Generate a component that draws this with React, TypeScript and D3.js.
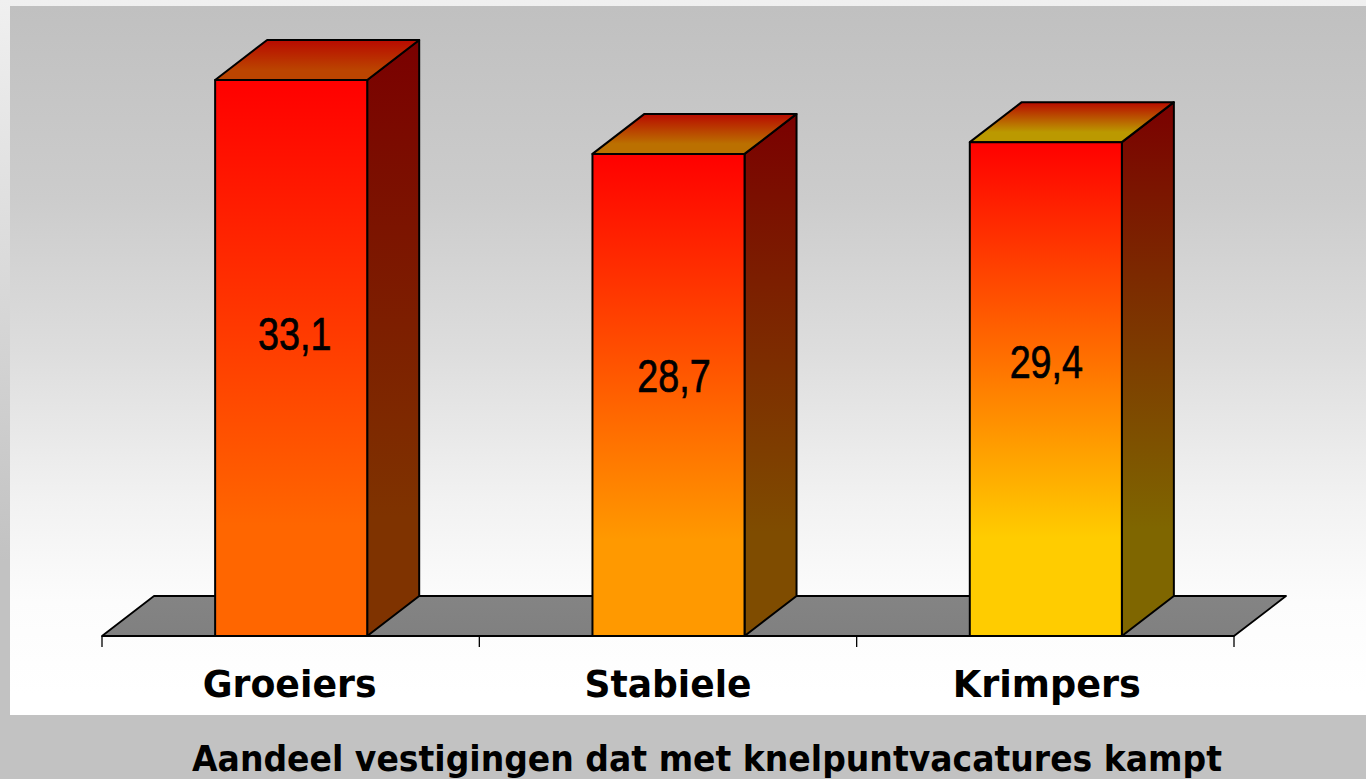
import React from "react";
import * as d3 from "d3";

const categories = ["Groeiers", "Stabiele", "Krimpers"];
const values = [33.1, 28.7, 29.4];
const valueLabels = ["33,1", "28,7", "29,4"];
const bottomColors = ["#ff6600", "#ff9900", "#ffcc00"];
const topFaceColors = ["#bb4400", "#bb7000", "#bb9900"];
const sideColors = ["#7f3300", "#7f4c00", "#7f6600"];
const title = "Aandeel vestigingen dat met knelpuntvacatures kampt";

const W = 1366;
const H = 779;
const baseY = 636;
const depthX = 52;
const depthY = 40;
const labelOffsets = [[3.5, -25], [5.5, -19], [0.5, -28]];
const categoryShift = [0.5, 1.5, 3];
const categoryWidths = [174, 167, 188];

const x = d3.scaleBand<string>().domain(categories).range([102.5, 1234.5]).paddingInner(0.597).paddingOuter(0.2985);
const y = d3.scaleLinear().domain([0, 33.1]).range([baseY, 80]);
const tickX = d3.scalePoint<number>().domain(d3.range(categories.length + 1)).range([102, 1234]);

const poly = (pts: [number, number][]) => d3.line()(pts) + "Z";

export default function App() {
  return (
    <svg width={W} height={H} style={{ position: "fixed", left: 0, top: 0, display: "block" }}>
      <defs>
        <linearGradient id="outer" x1="0" y1="0" x2="0" y2="1">
          <stop offset="0" stopColor="#f0f0f0" />
          <stop offset="0.72" stopColor="#c2c2c2" />
          <stop offset="1" stopColor="#c2c2c2" />
        </linearGradient>
        <linearGradient id="panel" x1="0" y1="0" x2="0" y2="1">
          <stop offset="0" stopColor="#c0c0c0" />
          <stop offset="0.27" stopColor="#cccccc" />
          <stop offset="0.485" stopColor="#dddddd" />
          <stop offset="0.70" stopColor="#f2f2f2" />
          <stop offset="0.84" stopColor="#fcfcfc" />
          <stop offset="0.97" stopColor="#ffffff" />
          <stop offset="1" stopColor="#ffffff" />
        </linearGradient>
        {categories.map((c, i) => (
          <React.Fragment key={c}>
            <linearGradient id={`front${i}`} x1="0" y1="0" x2="0" y2="1">
              <stop offset="0" stopColor="#ff0000" />
              <stop offset="0.8" stopColor={bottomColors[i]} />
              <stop offset="1" stopColor={bottomColors[i]} />
            </linearGradient>
            <linearGradient id={`side${i}`} x1="0" y1="0" x2="0" y2="1">
              <stop offset="0" stopColor="#7a0000" />
              <stop offset="0.8" stopColor={sideColors[i]} />
              <stop offset="1" stopColor={sideColors[i]} />
            </linearGradient>
            <linearGradient id={`top${i}`} x1="0" y1="0" x2="0" y2="1">
              <stop offset="0" stopColor="#b80a00" />
              <stop offset="0.75" stopColor={topFaceColors[i]} />
              <stop offset="1" stopColor={topFaceColors[i]} />
            </linearGradient>
          </React.Fragment>
        ))}
        <linearGradient id="floor" x1="0" y1="0" x2="0" y2="1">
          <stop offset="0" stopColor="#848484" />
          <stop offset="1" stopColor="#808080" />
        </linearGradient>
      </defs>

      <rect x={0} y={0} width={W} height={H} fill="url(#outer)" />
      <rect x={10} y={6} width={W - 10} height={709} fill="url(#panel)" />

      <path
        d={poly([[102, baseY], [102 + depthX, baseY - depthY], [1234 + depthX, baseY - depthY], [1234, baseY]])}
        fill="url(#floor)"
        stroke="#000"
        strokeWidth={1.8}
        strokeLinejoin="round"
      />
      {tickX.domain().map((t) => (
        <line key={t} x1={tickX(t)} x2={tickX(t)} y1={baseY} y2={baseY + 11} stroke="#000" strokeWidth={1.3} />
      ))}

      {categories.map((c, i) => {
        const x0 = x(c)!;
        const x1 = x0 + x.bandwidth();
        const yt = y(values[i]);
        return (
          <g key={c} stroke="#000" strokeWidth={2} strokeLinejoin="round">
            <path d={poly([[x1, baseY], [x1 + depthX, baseY - depthY], [x1 + depthX, yt - depthY], [x1, yt]])} fill={`url(#side${i})`} />
            <path d={poly([[x0, yt], [x0 + depthX, yt - depthY], [x1 + depthX, yt - depthY], [x1, yt]])} fill={`url(#top${i})`} />
            <rect x={x0} y={yt} width={x.bandwidth()} height={baseY - yt} fill={`url(#front${i})`} />
          </g>
        );
      })}

      {categories.map((c, i) => {
        const cx = x(c)! + x.bandwidth() / 2 + labelOffsets[i][0];
        const cy = (y(values[i]) + baseY) / 2 + labelOffsets[i][1];
        return (
          <text
            key={c}
            transform={`translate(${cx},${cy + 16.5}) scale(0.82,1)`}
            textAnchor="middle"
            fontFamily="'Liberation Sans'"
            fontSize={46}
            fill="#000"
            stroke="#000"
            strokeWidth={0.7}
          >
            {valueLabels[i]}
          </text>
        );
      })}

      {categories.map((c, i) => (
        <text
          key={c}
          x={x(c)! + x.bandwidth() / 2 - 2 + categoryShift[i]}
          y={697}
          textAnchor="middle"
          fontFamily="'DejaVu Sans'"
          fontWeight="bold"
          fontSize={38}
          textLength={categoryWidths[i]}
          lengthAdjust="spacingAndGlyphs"
          fill="#000"
        >
          {c}
        </text>
      ))}

      <text
        x={707}
        y={771}
        textAnchor="middle"
        fontFamily="'DejaVu Sans'"
        fontWeight="bold"
        fontSize={35}
        textLength={1030}
        lengthAdjust="spacingAndGlyphs"
        fill="#000"
      >
        {title}
      </text>
    </svg>
  );
}
